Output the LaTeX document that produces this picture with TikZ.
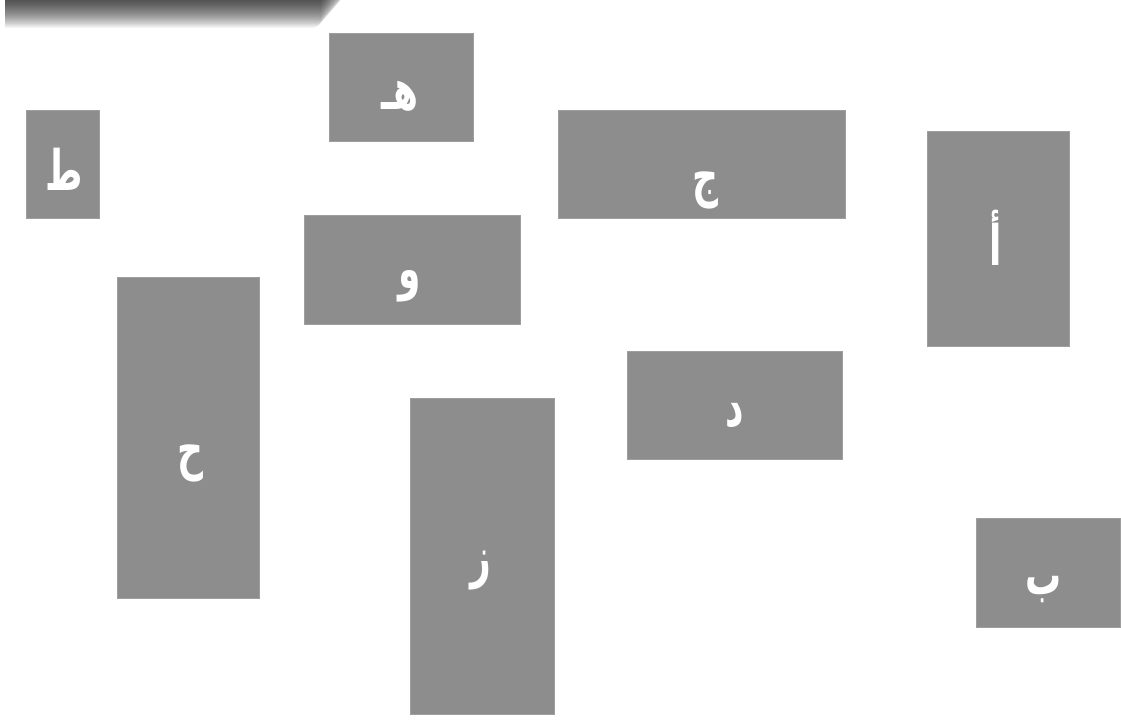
\documentclass[tikz,border=0pt]{standalone}
\usepackage{fontspec}
\newfontfamily\arabicfont[Script=Arabic]{DejaVu Sans}
\TeXXeTstate=1
\definecolor{boxgray}{RGB}{141,141,141}
\newcommand\tallglyph[1]{\scalebox{1}[1.55]{\beginR#1\endR}}
\tikzset{
  letterbox/.style={fill=boxgray, draw=boxgray!85!white, line width=0.6pt, inner sep=0pt},
  lettertext/.style={inner sep=0pt, text=white, font=\arabicfont\bfseries\fontsize{36}{40}\selectfont}
}
\begin{document}
\begin{tikzpicture}[x=1pt, y=-1pt]
  \useasboundingbox (0,0) rectangle (1121,720);
  % soft shadow strip along the top edge
  \begin{scope}
    \clip (5,0) rectangle (400,40);
    \foreach \i in {1,...,26}
      \fill[black, opacity=0.045, rounded corners=8pt] (-20,-12) rectangle (320+0.95*\i, 29-1.1*\i);
  \end{scope}
  % name/centre x/centre y/width/height/letter x/letter y/letter
  \foreach \nm/\cx/\cy/\w/\h/\lx/\ly/\lab in {ta/62.5/164/73/108/64/169/ط,
      ha/401/87/144/108/400/96/هـ, jim/701.5/164/287/108/705/190/ج,
      alif/998/238.5/142/215/996/238/أ, waw/412/269.5/216/109/410/286/و,
      hha/188/437.5/142/321/190/463/ح, dal/734.5/405/215/108/735/416/د,
      zay/482/556/144/316/481/571/ز, ba/1048/572.5/144/109/1044/590/ب} {
    \node[letterbox, minimum width=\w pt, minimum height=\h pt] (\nm) at (\cx,\cy) {};
    \node[lettertext] (\nm-txt) at (\lx,\ly) {\tallglyph{\lab}};
  }
\end{tikzpicture}
\end{document}
